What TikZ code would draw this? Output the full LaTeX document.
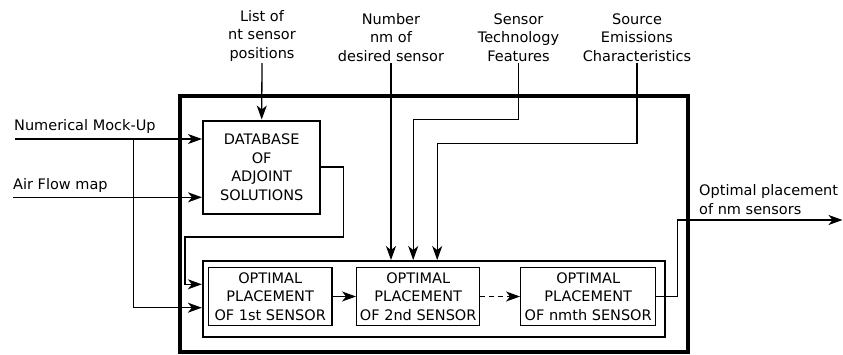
\documentclass[tikz,border=0pt]{standalone}
\usepackage{fontspec}
\setmainfont{DejaVu Sans}
\usetikzlibrary{positioning,arrows.meta}
\tikzset{
  box/.style={draw, line width=1.3pt, align=center, inner sep=0pt},
  feed/.style={line width=1.3pt, -{Stealth[length=14pt,width=10pt,inset=4pt]}},
  toplbl/.style={align=center, inner sep=1pt},
}

\begin{document}
\begin{tikzpicture}[x=1pt,y=-1pt,font=\fontsize{14.5}{18.5}\selectfont]
\useasboundingbox (0,0) rectangle (843,354);
% frame
\node (frame) [draw, line width=4pt, minimum width=508pt, minimum height=256.6pt] at (433.5,224) {};
% database
\node (db) [box, line width=2pt, minimum width=117.5pt, minimum height=93pt] at (261.7,167) {DATABASE\\OF\\ADJOINT\\SOLUTIONS};
% placement row
\node (row) [draw, line width=2.3pt, minimum width=461.8pt, minimum height=75.6pt] at (433.9,299) {};
\node (p1) [box, minimum width=123.7pt, minimum height=58.4pt] at (270.2,296.5) {OPTIMAL\\PLACEMENT\\OF 1st SENSOR};
\node (p2) [box, minimum width=123pt, minimum height=58.4pt] at (418.2,296.5) {OPTIMAL\\PLACEMENT\\OF 2nd SENSOR};
\node (pn) [box, minimum width=135pt, minimum height=58.4pt] at (588.2,296.5) {OPTIMAL\\PLACEMENT\\OF nmth SENSOR};
% top inputs
\node (list) [toplbl, above = 0.5pt of {(262,63)}] {List of\\nt sensor\\positions};
\node (num) [toplbl, above = 0.5pt of {(391,63)}] {Number\\nm of\\desired sensor};
\node (tech) [toplbl, above = 0.5pt of {(518.5,63)}] {Sensor\\Technology\\Features};
\node (src) [toplbl, above = 0.5pt of {(637,63)}] {Source\\Emissions\\Characteristics};
% left inputs
\node (mocklbl) [anchor=west, inner sep=1pt] at (13,126) {Numerical Mock-Up};
\node (airlbl) [anchor=west, inner sep=1pt] at (12,185) {Air Flow map};
\coordinate (mock) at (15,139);
\coordinate (split) at (133.3,139);
\coordinate (air) at (13,197.3);
% output
\coordinate (bend) at (677.7,220);
\coordinate (out) at (842.5,220);
\node (outlbl) [anchor=west, align=left, inner sep=1pt] at (698,199.5) {Optimal placement\\of nm sensors};

% connectors
\draw[feed] (mock) -- (mock -| db.west);
\draw[feed] (air) -- (air -| db.west);
\draw[feed] (split) |- ([yshift=-8.7pt]row.west);
\draw[feed] (db.east) -- ++(22,0) -- ++(0,70) -| ([xshift=-17pt,yshift=14.7pt]row.west) -- ([yshift=14.7pt]row.west);
\draw[feed, shorten <=0.5pt] (list.south) -- (db.north);
\draw[feed, shorten <=0.5pt] (num.south) -- (num.south |- row.north);
\draw[feed, shorten <=0.5pt] (tech.south) -- ++(0,57) -| ([xshift=-20.7pt]row.north);
\draw[feed, shorten <=0.5pt] (src.south) -- ++(0,81) -| ([xshift=3.3pt]row.north);
\draw[feed] (p1) -- (p2);
\draw[feed, dash pattern=on 5pt off 4pt] (p2) -- (pn);
\draw[feed] (pn.east) -- (bend |- pn.east) -- (bend) -- (out);
\end{tikzpicture}
\end{document}
